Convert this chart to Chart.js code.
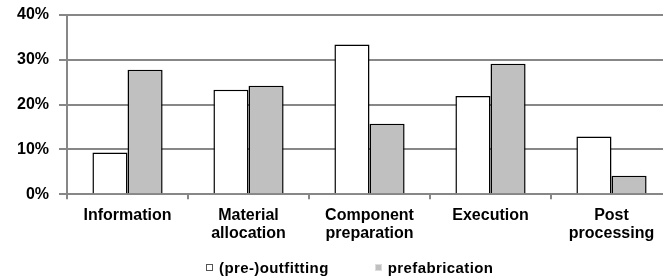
<!DOCTYPE html>
<html>
<head>
<meta charset="utf-8">
<script src="https://cdn.jsdelivr.net/npm/chart.js@4/dist/chart.umd.min.js"></script>
<style>
  html, body { margin: 0; padding: 0; background: #fff; overflow: hidden; }
  #wrap { position: relative; width: 663px; height: 280px; overflow: hidden; }
  #chart { position: absolute; left: 0; top: 0; }
  #legend {
    position: absolute; left: 206px; top: 259px;
    display: flex; align-items: center;
    font: bold 15px "Liberation Sans", Arial, sans-serif; color: #000;
    letter-spacing: 0.4px;
  }
  .item { display: flex; align-items: center; margin-right: 46px; }
  .box { width: 7px; height: 7px; margin-right: 6px; box-sizing: border-box; }
</style>
</head>
<body>
<div id="wrap">
  <canvas id="chart" width="672" height="280"></canvas>
  <div id="legend"></div>
</div>
<script>
const categories = [
  "Information",
  ["Material", "allocation"],
  ["Component", "preparation"],
  "Execution",
  ["Post", "processing"]
];
const seriesNames = ["(pre-)outfitting", "prefabrication"];
const outfitting = [9.3, 23.3, 33.4, 21.9, 12.9];
const prefabrication = [27.8, 24.2, 15.7, 29.1, 4.1];
const yTicks = [0, 10, 20, 30, 40];

const fillColors = ["#ffffff", "#c0c0c0"];
const font = "'Liberation Sans', Arial, sans-serif";
const axisGray = "#878787";

new Chart(document.getElementById("chart"), {
  type: "bar",
  data: {
    labels: categories,
    datasets: [
      {
        label: seriesNames[0],
        data: outfitting,
        backgroundColor: fillColors[0],
        borderColor: "#000",
        borderWidth: 1.5,
        categoryPercentage: 0.58,
        barPercentage: 1
      },
      {
        label: seriesNames[1],
        data: prefabrication,
        backgroundColor: fillColors[1],
        borderColor: "#000",
        borderWidth: 1.5,
        categoryPercentage: 0.58,
        barPercentage: 1
      }
    ]
  },
  options: {
    responsive: false,
    animation: false,
    layout: { padding: { left: 7, top: 15, right: 0, bottom: 30 } },
    plugins: {
      legend: { display: false },
      tooltip: { enabled: false }
    },
    scales: {
      x: {
        grid: {
          drawOnChartArea: false,
          color: axisGray,
          lineWidth: 2,
          tickLength: 5
        },
        border: { color: axisGray, width: 2 },
        ticks: {
          color: "#000",
          padding: 7,
          maxRotation: 0,
          font: { family: font, size: 16, weight: "bold", lineHeight: 1.15 }
        }
      },
      y: {
        min: yTicks[0],
        max: yTicks[yTicks.length - 1],
        afterBuildTicks: axis => {
          axis.ticks = yTicks.map(v => ({ value: v }));
        },
        // let the top label overhang instead of pushing the plot down
        afterFit: axis => {
          axis.paddingTop = 0;
        },
        grid: {
          color: axisGray,
          lineWidth: 2,
          tickLength: 8
        },
        border: { color: axisGray, width: 2 },
        ticks: {
          color: "#000",
          padding: 10,
          callback: v => v + "%",
          font: { family: font, size: 16, weight: "bold" }
        }
      }
    }
  }
});

// legend drawn as html below the canvas
const legend = document.getElementById("legend");
seriesNames.forEach((name, i) => {
  const item = document.createElement("div");
  item.className = "item";
  const box = document.createElement("span");
  box.className = "box";
  box.style.background = fillColors[i];
  box.style.border = "1px solid " + (i === 0 ? "#555" : "#ddd");
  const text = document.createElement("span");
  text.textContent = name;
  item.appendChild(box);
  item.appendChild(text);
  legend.appendChild(item);
});
</script>
</body>
</html>
